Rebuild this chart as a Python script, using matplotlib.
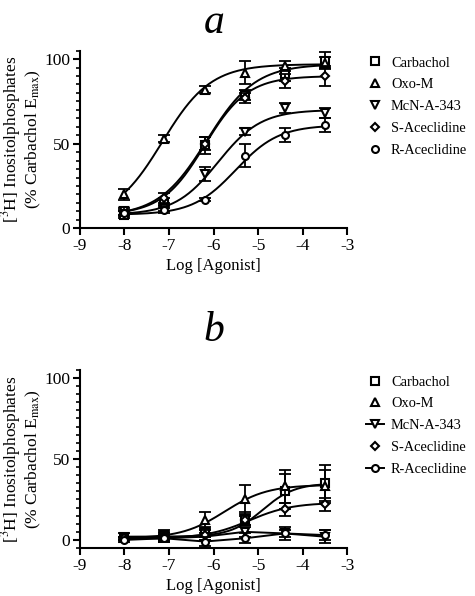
import numpy as np
import matplotlib
matplotlib.use('Agg')
import matplotlib.pyplot as plt
from matplotlib.ticker import MultipleLocator

plt.rcParams['font.family'] = ['Liberation Serif', 'DejaVu Serif']
plt.rcParams['mathtext.fontset'] = 'stix'
plt.rcParams['axes.unicode_minus'] = False

# Configuration
LOG_DOSE = [-8.0, -7.1, -6.2, -5.3, -4.4, -3.5]
AGONISTS = ['Carbachol', 'Oxo-M', 'McN-A-343', 'S-Aceclidine', 'R-Aceclidine']
MARKERS = ['s', '^', 'v', 'D', 'o']
MSIZE = [5.5, 6, 6, 4.5, 5]

# panel a: mean response (% carbachol Emax) and SEM
a_carbachol = [8, 15, 49, 79, 91, 99]
a_oxom = [20, 53, 82, 92, 96, 98]
a_mcn = [10, 12, 32, 57, 71, 68]
a_saceclidine = [9, 18, 50, 77, 87, 90]
a_raceclidine = [9, 11, 17, 43, 55, 61]
a_carbachol_err = [2, 3, 5, 3, 4, 5]
a_oxom_err = [3, 2, 2, 7, 3, 3]
a_mcn_err = [2, 2, 4, 2, 3, 3]
a_saceclidine_err = [2, 3, 4, 3, 4, 6]
a_raceclidine_err = [1, 2, 1, 7, 4, 4]
# fitted curves: bottom, top, logEC50, hill slope
a_fits = [(7, 97, -6.15, 0.8), (5, 97, -7.15, 0.8), (8, 70, -5.9, 0.9),
          (8, 90, -6.2, 0.9), (8, 61, -5.5, 0.9)]

# panel b
b_carbachol = [2, 3, 5, 13, 30, 35]
b_oxom = [1, 2, 12, 25, 33, 33]
b_mcn = [1, 1, 2, 5, 4, 2]
b_saceclidine = [1, 2, 3, 12, 19, 22]
b_raceclidine = [0, 1, -1, 1, 4, 3]
b_carbachol_err = [2, 3, 3, 4, 11, 11]
b_oxom_err = [1, 3, 5, 9, 10, 10]
b_mcn_err = [1, 2, 2, 3, 4, 4]
b_saceclidine_err = [1, 2, 3, 3, 4, 4]
b_raceclidine_err = [1, 2, 3, 3, 2, 3]
b_fits = [(2, 35, -4.9, 1.2), (1, 34, -5.75, 0.9), None,
          (1, 23, -5.2, 0.9), None]


def hill(x, bottom, top, logec50, slope):
    return bottom + (top - bottom) / (1 + 10 ** (slope * (logec50 - x)))


def draw_panel(fig, rect, means, errs, fits, ymin, letter, letter_y):
    ax = fig.add_axes(rect)
    xs = np.linspace(-8, -3.5, 200)
    handles = []
    for i, name in enumerate(AGONISTS):
        fit = fits[i]
        if fit is not None:
            ax.plot(xs, hill(xs, *fit), color='black', lw=1.4)
            ls = 'none'
        else:
            ls = '-'
        ax.errorbar(LOG_DOSE, means[i], yerr=errs[i], fmt='none', ecolor='black',
                    elinewidth=1.3, capsize=4, capthick=1.3)
        h, = ax.plot(LOG_DOSE, means[i], linestyle=ls, color='black', lw=1.4,
                     marker=MARKERS[i], markersize=MSIZE[i], markerfacecolor='white',
                     markeredgecolor='black', markeredgewidth=1.5, label=name)
        handles.append(h)

    ax.set_xlim(-9, -3)
    ax.set_ylim(ymin, 105)
    ax.set_xticks(range(-9, -2))
    ax.set_yticks([0, 50, 100])
    ax.yaxis.set_minor_locator(MultipleLocator(5))
    for side in ['top', 'right']:
        ax.spines[side].set_visible(False)
    for side in ['left', 'bottom']:
        ax.spines[side].set_linewidth(1.5)
    ax.tick_params(which='major', direction='out', length=5, width=1.5, labelsize=12.5, pad=2)
    ax.tick_params(which='minor', direction='out', length=3, width=1.2)
    ax.set_xlabel('Log [Agonist]', fontsize=12, labelpad=3)
    ax.set_ylabel('[$^3$H] Inositolphosphates\n(% Carbachol E$_{\\rm max}$)',
                  fontsize=12.5, linespacing=1.05, labelpad=1)
    ax.legend(handles=handles, loc='upper left', bbox_to_anchor=(1.05, 1.0),
              frameon=False, fontsize=10.4, handlelength=1.2, handletextpad=0.5,
              labelspacing=0.6, borderaxespad=0)
    fig.text(0.45, letter_y, letter, fontsize=30, style='italic', ha='center', va='baseline')
    return ax


fig = plt.figure(figsize=(4.75, 5.96), dpi=100)
means_a = [a_carbachol, a_oxom, a_mcn, a_saceclidine, a_raceclidine]
errs_a = [a_carbachol_err, a_oxom_err, a_mcn_err, a_saceclidine_err, a_raceclidine_err]
means_b = [b_carbachol, b_oxom, b_mcn, b_saceclidine, b_raceclidine]
errs_b = [b_carbachol_err, b_oxom_err, b_mcn_err, b_saceclidine_err, b_raceclidine_err]

draw_panel(fig, [0.168, 0.617, 0.563, 0.298], means_a, errs_a, a_fits, 0, 'a', 0.945)
draw_panel(fig, [0.168, 0.0805, 0.563, 0.299], means_b, errs_b, b_fits, -5, 'b', 0.428)

fig.savefig('out.png', dpi=100)
